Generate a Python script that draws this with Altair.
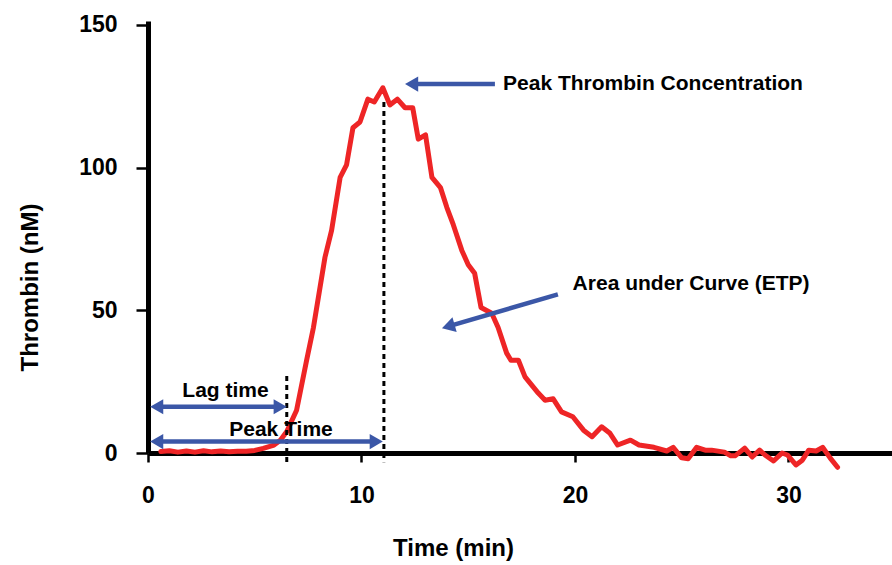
import math
import altair as alt
import pandas as pd

# Thrombin generation curve
time_min = [0.6, 1.0, 1.4, 1.8, 2.2, 2.6, 3.0, 3.4, 3.8, 4.2, 4.6, 5.0, 5.4, 5.9, 6.2,
            6.5, 6.96, 7.43, 7.75, 8.29, 8.6, 9.0, 9.3, 9.6, 9.93, 10.3, 10.6, 11.0,
            11.33, 11.68, 12.04, 12.4, 12.66, 13.0, 13.3, 13.7, 14.0, 14.3, 14.7, 15.0,
            15.3, 15.6, 16.1, 16.4, 16.8, 17.0, 17.35, 17.66, 18.28, 18.6, 18.98, 19.37,
            19.9, 20.4, 20.8, 21.25, 21.64, 22.0, 22.6, 23.0, 23.7, 24.3, 24.6, 25.0,
            25.3, 25.7, 26.1, 26.4, 27.0, 27.3, 27.5, 27.95, 28.3, 28.65, 28.9, 29.3,
            29.7, 29.95, 30.35, 30.65, 30.95, 31.3, 31.6, 31.95, 32.3]
thrombin_nM = [0.5, 0.8, 0.3, 0.7, 0.3, 0.8, 0.4, 0.7, 0.4, 0.6, 0.6, 0.9, 1.6, 2.8, 4.5,
               7.5, 15, 32.5, 44, 68.6, 78, 96.6, 101, 114, 116, 124, 123, 128,
               122, 124, 121, 121, 110, 111.5, 96.6, 93, 86, 80, 71, 66,
               63, 51, 49, 44, 35, 32.5, 32.5, 26.7, 21, 18.5, 19, 14.4,
               12.7, 8, 5.7, 9.2, 6.9, 2.8, 4.5, 2.8, 2, 0.7, 2, -1.7,
               -2, 2, 1, 1, 0.3, -1, -1, 1.7, -1.4, 1, -0.7, -2.8,
               0, -0.7, -4.2, -2.5, 1, 0.7, 2, -1.7, -5]

# Key parameters
lag_time = 6.5
peak_time = 11.05
peak_top = 123.0
guide_bottom = -3.2
lag_top = 27.0

# Annotation labels
label_text = ["Lag time", "Peak Time", "Peak Thrombin Concentration", "Area under Curve (ETP)"]
label_t = [3.63, 6.23, 16.63, 19.89]
label_v = [19.6, 5.9, 127.2, 57.2]

# Arrows: tail (t, v) -> tip (t, v), double-headed or not
arrow_tail_t = [0.1, 0.1, 16.25, 19.2]
arrow_tail_v = [16.2, 4.0, 129.3, 55.6]
arrow_tip_t = [6.5, 11.0, 12.04, 13.77]
arrow_tip_v = [16.2, 4.0, 129.3, 43.7]
arrow_double = [True, True, False, False]

X_MAX = 34.85
Y_MAX = 151.4
W, H = 744, 432
PX_X = W / X_MAX
PX_Y = H / Y_MAX

FONT = "Liberation Sans, Arial, sans-serif"
BLUE = "#3B57A7"
RED = "#EE2526"
HEAD_SIZE = 230
HEAD_H = math.sqrt(3) * (math.sqrt(HEAD_SIZE) / 2) / 2


def head(tail_t, tail_v, tip_t, tip_v):
    dx = (tip_t - tail_t) * PX_X
    dy = -(tip_v - tail_v) * PX_Y
    L = math.hypot(dx, dy)
    ux, uy = dx / L, dy / L
    ang = math.degrees(math.atan2(dy, dx)) % 360
    ct = tip_t - HEAD_H * ux / PX_X
    cv = tip_v + HEAD_H * uy / PX_Y
    return ct, cv, ang


heads, shafts = [], []
for tt, tv, pt, pv, dbl in zip(arrow_tail_t, arrow_tail_v, arrow_tip_t, arrow_tip_v, arrow_double):
    ct, cv, ang = head(tt, tv, pt, pv)
    heads.append({"t": ct, "v": cv, "angle": ang})
    st, sv = tt, tv
    if dbl:
        bt, bv, bang = head(pt, pv, tt, tv)
        heads.append({"t": bt, "v": bv, "angle": bang})
        st, sv = bt, bv
    shafts.append({"t": st, "v": sv, "t2": ct, "v2": cv})

curve = pd.DataFrame({"t": time_min, "v": thrombin_nM})
heads_df = pd.DataFrame(heads)
shafts_df = pd.DataFrame(shafts)
guides_df = pd.DataFrame({"t": [lag_time, peak_time], "v": [lag_top, peak_top],
                          "v2": [guide_bottom, guide_bottom]})
labels_df = pd.DataFrame({"t": label_t, "v": label_v, "label": label_text})

xs = alt.Scale(domain=[0, X_MAX], nice=False, zero=False)
ys = alt.Scale(domain=[0, Y_MAX], nice=False, zero=False)

x_axis = alt.Axis(values=[0, 10, 20, 30], title="Time (min)", grid=False,
                  domainWidth=5, domainColor="black", tickColor="black", tickWidth=2.5,
                  tickSize=9, labelFont=FONT, labelFontSize=23, labelFontWeight="bold",
                  labelColor="black", labelBaseline="middle", labelPadding=33,
                  labelFlush=False,
                  titleFont=FONT, titleFontSize=24, titleFontWeight="bold", titleColor="black",
                  titleX=305, titleY=95, titleAlign="center", titleBaseline="middle")
y_axis = alt.Axis(values=[0, 50, 100, 150], title="Thrombin (nM)", grid=False,
                  domainWidth=5, domainColor="black", tickColor="black", tickWidth=2.5,
                  tickSize=12, labelFont=FONT, labelFontSize=23, labelFontWeight="bold",
                  labelColor="black", labelBaseline="middle", labelPadding=19,
                  labelFlush=False,
                  titleFont=FONT, titleFontSize=24, titleFontWeight="bold", titleColor="black",
                  titleX=-118, titleY=266, titleAlign="center", titleBaseline="middle",
                  titleAngle=270)

line = alt.Chart(curve).mark_line(color=RED, strokeWidth=5, strokeJoin="round",
                                  strokeCap="round", clip=False).encode(
    x=alt.X("t:Q", scale=xs, axis=x_axis),
    y=alt.Y("v:Q", scale=ys, axis=y_axis),
)

guides = alt.Chart(guides_df).mark_rule(color="black", strokeWidth=3, strokeDash=[5, 4]).encode(
    x="t:Q", y="v:Q", y2="v2:Q")

arrow_shafts = alt.Chart(shafts_df).mark_rule(color=BLUE, strokeWidth=4.5).encode(
    x="t:Q", y="v:Q", x2="t2:Q", y2="v2:Q")

arrow_heads = alt.Chart(heads_df).mark_point(shape="triangle-right", filled=True, size=HEAD_SIZE,
                                             color=BLUE, opacity=1, strokeWidth=0).encode(
    x="t:Q", y="v:Q", angle=alt.Angle("angle:Q", scale=None))

text_center = alt.Chart(labels_df.iloc[:2]).mark_text(
    align="center", baseline="alphabetic", font=FONT, fontSize=21, fontWeight="bold",
    color="black").encode(x="t:Q", y="v:Q", text="label:N")

text_left = alt.Chart(labels_df.iloc[2:]).mark_text(
    align="left", baseline="alphabetic", font=FONT, fontSize=21, fontWeight="bold",
    color="black").encode(x="t:Q", y="v:Q", text="label:N")

chart = alt.layer(line, guides, arrow_shafts, arrow_heads, text_center, text_left).properties(
    width=W, height=H,
    autosize=alt.AutoSizeParams(type="none"),
    padding={"left": 148, "top": 21, "right": 0, "bottom": 110},
    background="white",
).configure_view(stroke=None)

chart.save("out.html", embed_options={"renderer": "svg", "actions": False})
